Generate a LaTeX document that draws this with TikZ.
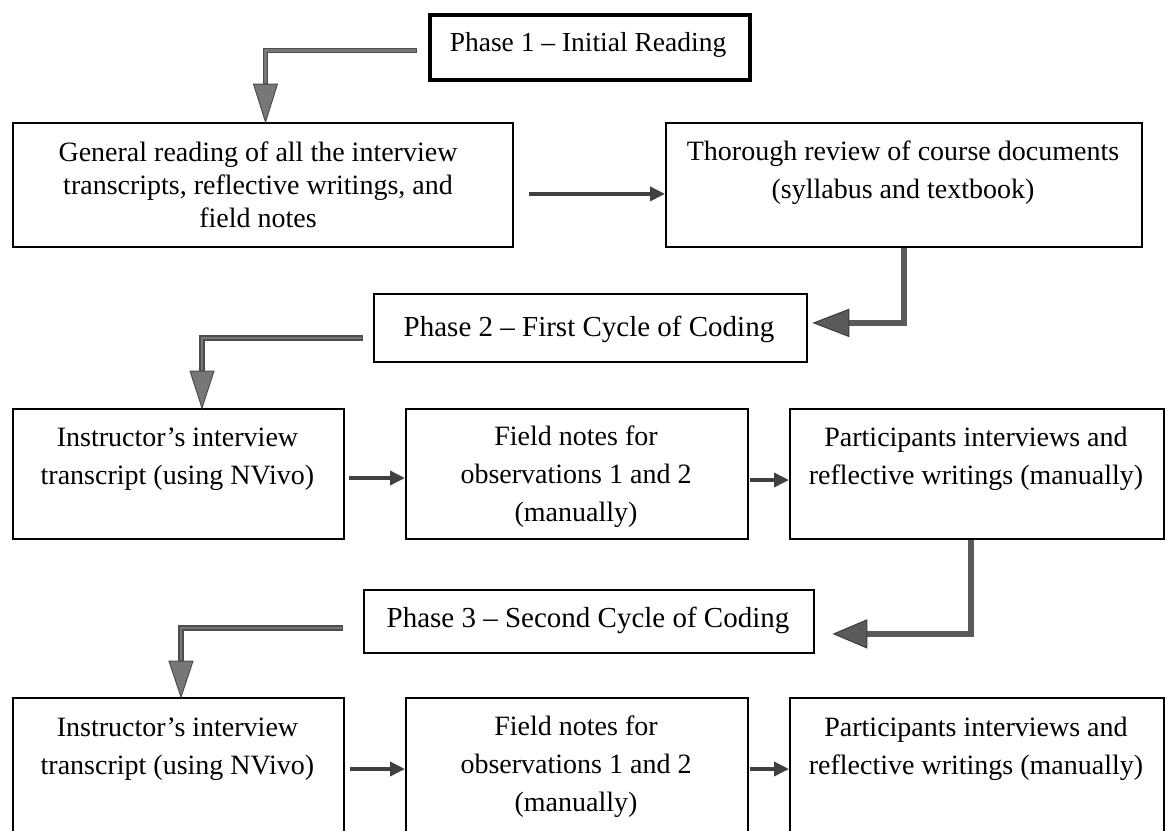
\documentclass[tikz,border=0pt]{standalone}
\usepackage{fontspec}
\setmainfont{Liberation Serif}
\usetikzlibrary{arrows.meta,calc}
\definecolor{lfill}{HTML}{777777}
\definecolor{lline}{HTML}{4D4D4D}
\definecolor{rfill}{HTML}{5A5A5A}
\definecolor{rline}{HTML}{3C3C3C}
\definecolor{sline}{HTML}{404040}
\tikzset{
  boxnode/.style={draw=black, line width=1.8pt, inner sep=0pt, anchor=north west},
  txt/.style={align=center, inner sep=0pt, font=\fontsize{28}{38}\selectfont},
  phasetxt/.style={align=center, inner sep=0pt, font=\fontsize{29}{38}\selectfont},
  lout/.style={draw=lline, line width=5.4pt},
  lin/.style={draw=lfill, line width=2.6pt, shorten <=1.2pt},
  lhead/.style={fill=lfill, draw=lline, line width=1pt, line join=miter},
  rshaft/.style={draw=rfill, line width=6.5pt},
  rhead/.style={fill=rfill, draw=rline, line width=1pt, line join=miter},
  sarrow/.style={draw=sline, line width=3.5pt, -{Triangle[length=15pt,width=14pt]}}
}
\begin{document}
\begin{tikzpicture}[x=1pt,y=-1pt]
\useasboundingbox (0,0) rectangle (1174,830);
\clip (0,0) rectangle (1174,830);
\fill[white] (0,0) rectangle (1174,830);

% boxes
\node[boxnode, line width=3.5pt, minimum width=320pt, minimum height=65pt] (P1) at (428,13) {};
\node[boxnode, minimum width=500pt, minimum height=124pt] (A) at (12,122) {};
\node[boxnode, minimum width=476pt, minimum height=124pt] (B) at (665,122) {};
\node[boxnode, minimum width=433pt, minimum height=68pt] (P2) at (373,293) {};
\node[boxnode, minimum width=331pt, minimum height=130pt] (C) at (12,408) {};
\node[boxnode, minimum width=342pt, minimum height=130pt] (D) at (405,408) {};
\node[boxnode, minimum width=374pt, minimum height=130pt] (E) at (789,408) {};
\node[boxnode, minimum width=450pt, minimum height=63pt] (P3) at (363,589) {};
\node[boxnode, minimum width=331pt, minimum height=170pt] (F) at (12,697) {};
\node[boxnode, minimum width=342pt, minimum height=170pt] (G) at (405,697) {};
\node[boxnode, minimum width=374pt, minimum height=170pt] (H) at (789,697) {};

% texts
\node[phasetxt, font=\fontsize{27.5}{38}\selectfont] (P1t) at (588,45) {Phase 1 -- Initial Reading};
\node[txt, font=\fontsize{28}{33}\selectfont] (At) at (258,185) {General reading of all the interview\\transcripts, reflective writings, and\\field notes};
\node[txt] (Bt) at (903,173) {Thorough review of course documents\\(syllabus and textbook)};
\node[phasetxt] (P2t) at (589,329) {Phase 2 -- First Cycle of Coding};
\node[txt] (Ct) at (177.5,459) {Instructor’s interview\\transcript (using NVivo)};
\node[txt] (Dt) at (576,477) {Field notes for\\observations 1 and 2\\(manually)};
\node[txt] (Et) at (976,459) {Participants interviews and\\reflective writings (manually)};
\node[phasetxt] (P3t) at (588,620) {Phase 3 -- Second Cycle of Coding};
\node[txt] (Ft) at (177.5,749) {Instructor’s interview\\transcript (using NVivo)};
\node[txt] (Gt) at (576,767) {Field notes for\\observations 1 and 2\\(manually)};
\node[txt] (Ht) at (976,749) {Participants interviews and\\reflective writings (manually)};

% straight arrows
\coordinate (ab) at ($(A.east)+(15,9)$);
\draw[sarrow] (ab) -- (ab -| B.west);
\coordinate (cd) at ($(C.north east)+(4,70)$);
\draw[sarrow] (cd) -- (cd -| D.west);
\coordinate (de) at ($(D.north east)+(1,72)$);
\draw[sarrow] (de) -- (de -| E.west);
\coordinate (fg) at ($(F.north east)+(5,72)$);
\draw[sarrow] (fg) -- (fg -| G.west);
\coordinate (gh) at ($(G.north east)+(1,72)$);
\draw[sarrow] (gh) -- (gh -| H.west);

% left block arrows
\coordinate (s1) at ($(P1.west)+(-11,3.5)$);
\coordinate (t1) at ($(A.north west)+(253.5,0)$);
\coordinate (h1) at ($(t1)+(0,-38)$);
\draw[lout] (s1) -| (h1);
\draw[lin] (s1) -| ($(h1)+(0,-1)$);
\draw[lhead] ($(h1)+(-12,0)$) -- ($(h1)+(12,0)$) -- (t1) -- cycle;

\coordinate (s2) at ($(P2.west)+(-10,10)$);
\coordinate (t2) at ($(C.north west)+(190,0)$);
\coordinate (h2) at ($(t2)+(0,-37)$);
\draw[lout] (s2) -| (h2);
\draw[lin] (s2) -| ($(h2)+(0,-1)$);
\draw[lhead] ($(h2)+(-12,0)$) -- ($(h2)+(12,0)$) -- (t2) -- cycle;

\coordinate (s3) at ($(P3.west)+(-20,6.5)$);
\coordinate (t3) at ($(F.north west)+(169,0)$);
\coordinate (h3) at ($(t3)+(0,-36)$);
\draw[lout] (s3) -| (h3);
\draw[lin] (s3) -| ($(h3)+(0,-1)$);
\draw[lhead] ($(h3)+(-12,0)$) -- ($(h3)+(12,0)$) -- (t3) -- cycle;

% right bent arrows
\coordinate (r4) at (B.south);
\coordinate (t4) at ($(P2.east)+(6,-5)$);
\coordinate (h4) at ($(t4)+(35,0)$);
\draw[rshaft] (r4) |- ($(h4)+(-1,0)$);
\draw[rhead] ($(h4)+(0,-13.5)$) -- ($(h4)+(0,13.5)$) -- (t4) -- cycle;

\coordinate (r5) at ($(E.south west)+(182,0)$);
\coordinate (t5) at ($(P3.east)+(19,12.5)$);
\coordinate (h5) at ($(t5)+(33,0)$);
\draw[rshaft] (r5) |- ($(h5)+(-1,0)$);
\draw[rhead] ($(h5)+(0,-14)$) -- ($(h5)+(0,14)$) -- (t5) -- cycle;
\end{tikzpicture}
\end{document}
